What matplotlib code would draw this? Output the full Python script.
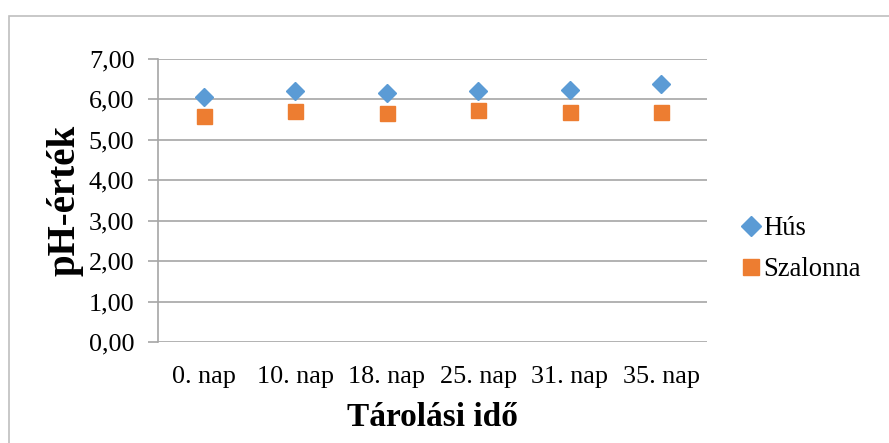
import matplotlib.pyplot as plt
from matplotlib.patches import Rectangle
from matplotlib.lines import Line2D

days = ["0. nap", "10. nap", "18. nap", "25. nap", "31. nap", "35. nap"]
hus = [6.05, 6.21, 6.15, 6.21, 6.23, 6.38]
szalonna = [5.59, 5.71, 5.67, 5.74, 5.69, 5.70]
yticks = [0, 1, 2, 3, 4, 5, 6, 7]

plt.rcParams["font.family"] = ["Liberation Serif", "DejaVu Serif"]

blue = "#5b9bd5"
orange = "#ed7d31"
grid = "#a6a6a6"

fig = plt.figure(figsize=(8.89, 4.43), dpi=100)
fig.patches.append(Rectangle((9 / 889, -0.1), 1.2, 1 - 16 / 443 + 0.1,
                             transform=fig.transFigure, fill=False,
                             ec="#bfbfbf", lw=1.2))
ax = fig.add_axes([158 / 889, 101 / 443, 549 / 889, 283 / 443])

ax.plot(days, hus, ls="none", marker="D", ms=9.5, color=blue, label="Hús", zorder=3)
ax.plot(days, szalonna, ls="none", marker="s", ms=10.8, color=orange, label="Szalonna", zorder=3)

ax.set_xlim(-0.5, 5.5)
ax.set_ylim(0, 7)
ax.set_yticks(yticks)
ax.set_yticklabels([f"{v:.2f}".replace(".", ",") for v in yticks])
ax.yaxis.grid(True, color=grid, lw=1.2)
ax.set_axisbelow(True)
for s in ["top", "right", "bottom"]:
    ax.spines[s].set_visible(False)
ax.spines["left"].set_color(grid)
ax.spines["left"].set_linewidth(1.2)
ax.tick_params(axis="y", length=7, width=1.2, color=grid, labelsize=18.8, pad=10)
ax.tick_params(axis="x", length=0, labelsize=18.8, pad=17)

ax.set_ylabel("pH-érték", fontsize=28, fontweight="bold", labelpad=4)
ax.set_xlabel("Tárolási idő", fontsize=24, fontweight="bold", labelpad=10)

handles = [Line2D([], [], ls="none", marker="D", ms=10.5, color=blue),
           Line2D([], [], ls="none", marker="s", ms=11, color=orange)]
fig.legend(handles, ["Hús", "Szalonna"], loc="center left",
           bbox_to_anchor=(719 / 889, 1 - 249 / 443), frameon=False,
           fontsize=19.2, handlelength=0.6, handletextpad=0.15, labelspacing=0.6)

fig.savefig("out.png", dpi=100)
